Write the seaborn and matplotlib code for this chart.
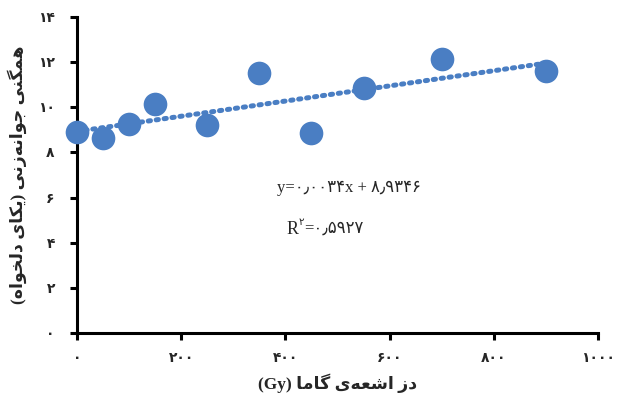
import matplotlib
matplotlib.use("Agg")
import matplotlib.pyplot as plt
import seaborn as sns
import pandas as pd

# ---- data ----
dose = [0, 50, 100, 150, 250, 350, 450, 550, 700, 900]
uniformity = [8.92, 8.64, 9.26, 10.15, 9.21, 11.51, 8.84, 10.84, 12.12, 11.59]
x_ticks = [0, 200, 400, 600, 800, 1000]
x_tick_labels = ['۰', '۲۰۰', '۴۰۰', '۶۰۰', '۸۰۰', '۱۰۰۰']
y_ticks = [0, 2, 4, 6, 8, 10, 12, 14]
y_tick_labels = ['۰', '۲', '۴', '۶', '۸', '۱۰', '۱۲', '۱۴']
x_label = 'دز اشعه‌ی گاما'
x_unit = '(Gy)'
y_label = 'همگنی جوانه‌زنی (یکای دلخواه)'
eq_text = 'y=۰٫۰۰۳۴x + ۸٫۹۳۴۶'
r2_value = '=۰٫۵۹۲۷'

# ---- simple Persian shaping for matplotlib (no native shaping) ----
FORMS = {
    'ا': ('\uFE8D', '\uFE8E', None, None),
    'د': ('\uFEA9', '\uFEAA', None, None),
    'ز': ('\uFEAF', '\uFEB0', None, None),
    'و': ('\uFEED', '\uFEEE', None, None),
    'ه': ('\uFEE9', '\uFEEA', '\uFEEB', '\uFEEC'),
    'م': ('\uFEE1', '\uFEE2', '\uFEE3', '\uFEE4'),
    'ن': ('\uFEE5', '\uFEE6', '\uFEE7', '\uFEE8'),
    'ج': ('\uFE9D', '\uFE9E', '\uFE9F', '\uFEA0'),
    'ل': ('\uFEDD', '\uFEDE', '\uFEDF', '\uFEE0'),
    'خ': ('\uFEA5', '\uFEA6', '\uFEA7', '\uFEA8'),
    'ش': ('\uFEB5', '\uFEB6', '\uFEB7', '\uFEB8'),
    'ع': ('\uFEC9', '\uFECA', '\uFECB', '\uFECC'),
    'گ': ('\uFB92', '\uFB93', '\uFB94', '\uFB95'),
    'ک': ('\uFB8E', '\uFB8F', '\uFB90', '\uFB91'),
    'ی': ('\uFBFC', '\uFBFD', '\uFBFE', '\uFBFF'),
}


def shape(s):
    out = []
    for i, c in enumerate(s):
        if c not in FORMS:
            out.append(c)
            continue
        f = FORMS[c]
        prev = s[i - 1] if i > 0 else ''
        nxt = s[i + 1] if i + 1 < len(s) else ''
        jp = prev in FORMS and FORMS[prev][2] is not None
        jn = f[2] is not None and nxt in FORMS
        if jp and jn:
            out.append(f[3])
        elif jp:
            out.append(f[1])
        elif jn:
            out.append(f[2])
        else:
            out.append(f[0])
    vis = ''.join(out).replace('\u200c', '')[::-1]
    return vis.translate(str.maketrans('()', ')('))


sns.set_theme(style="white")
plt.rcParams['font.family'] = ['Liberation Serif', 'DejaVu Sans']

df = pd.DataFrame({'dose': dose, 'uni': uniformity})

fig = plt.figure(figsize=(6.24, 3.96), dpi=100)
ax = fig.add_axes([77 / 624, 1 - 333 / 396, (598 - 77) / 624, (333 - 17) / 396])

blue = '#4a7ec3'
sns.regplot(data=df, x='dose', y='uni', ax=ax, ci=None, truncate=True,
            scatter_kws=dict(s=290, color=blue, alpha=1, zorder=3,
                             clip_on=False, linewidths=0),
            line_kws=dict(color=blue, linewidth=3.6,
                          linestyle=(0, (0.45, 1.15)),
                          dash_capstyle='round', zorder=2))

ax.set_xlim(0, 1000)
ax.set_ylim(0, 14)
ax.set_xticks(x_ticks)
ax.set_xticklabels(x_tick_labels, fontweight='bold', fontsize=10)
ax.set_yticks(y_ticks)
ax.set_yticklabels(y_tick_labels, fontweight='bold', fontsize=10)

for side in ['top', 'right']:
    ax.spines[side].set_visible(False)
for side in ['left', 'bottom']:
    ax.spines[side].set_color('black')
    ax.spines[side].set_linewidth(2.2)
ax.tick_params(axis='both', direction='out', length=5, width=2.2,
               color='black', left=True, bottom=True)
ax.tick_params(axis='y', pad=11)
ax.tick_params(axis='x', pad=9)

ax.set_xlabel(x_unit + ' ' + shape(x_label), fontweight='bold', fontsize=12.5,
              labelpad=6)
ax.set_ylabel(shape(y_label), fontweight='bold', fontsize=12.5, labelpad=8)

# regression equation texts
fig.text(277 / 624, 1 - 188 / 396, eq_text, fontsize=12, va='center', ha='left')
rt = fig.text(287 / 624, 1 - 229 / 396, 'R', fontsize=13, va='center', ha='left')
sup = ax.annotate('۲', xy=(1, 0.62), xycoords=rt, fontsize=7.5,
                  va='bottom', ha='left')
ax.annotate(r2_value, xy=(1, 0.5), xycoords=(sup, rt), fontsize=12,
            va='center', ha='left')

fig.savefig('out.png', dpi=100)
